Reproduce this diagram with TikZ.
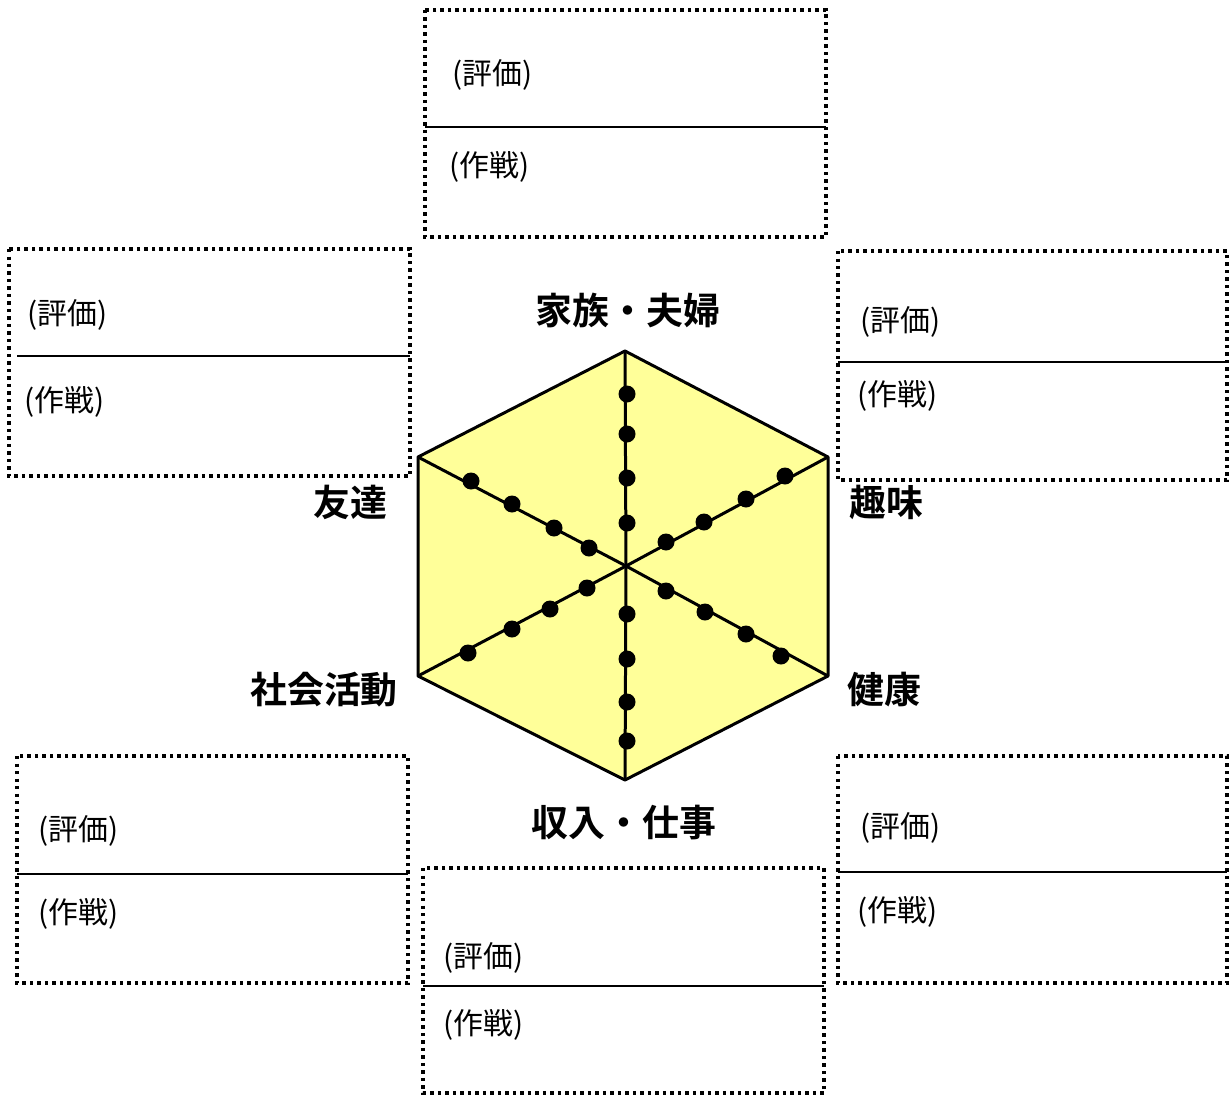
\documentclass[tikz,border=0pt]{standalone}
\usepackage{fontspec}
\setmainfont{Noto Sans CJK JP}[BoldFont={Noto Sans CJK JP Bold}]
\begin{document}
\begin{tikzpicture}[x=0.02cm,y=-0.02cm,
  memo/.style={draw, line width=0.068cm, dash pattern=on 0.068cm off 0.082cm},
  divider/.style={line width=0.04cm},
  hexline/.style={line width=0.06cm, line join=round},
  dotmark/.style={circle, fill=black, inner sep=0pt, minimum size=0.34cm},
  memotext/.style={anchor=west, font=\fontsize{17pt}{20pt}\selectfont},
  axislabel/.style={font=\fontsize{21pt}{24pt}\selectfont\bfseries}]
\useasboundingbox (0,0) rectangle (1229,1095);

% hexagon
\coordinate (C) at (626,566);
\coordinate (T) at (625,351);
\coordinate (UR) at (828,457);
\coordinate (LR) at (828,676);
\coordinate (B) at (625,780);
\coordinate (LL) at (418,676);
\coordinate (UL) at (418,457);
\fill[fill={rgb,255:red,255;green,255;blue,153}] (T) -- (UR) -- (LR) -- (B) -- (LL) -- (UL) -- cycle;
\foreach \v in {T,UR,LR,B,LL,UL}{
  \draw[hexline] (C) -- (\v);
}
\draw[hexline] (T) -- (UR) -- (LR) -- (B) -- (LL) -- (UL) -- cycle;

% scale dots
\foreach \p/\q [count=\i] in {627/394,627/434,627/478,627/523,
  627/614,627/659,627/702,627/741,
  666/542,704/522,746/499,785/476,
  666/591,705/612,746/634,781/656,
  471/481,512/504,554/528,589/548,
  468/653,512/629,550/609,587/588}{
  \node[dotmark] (d\i) at (\p,\q) {};
}

% axis labels
\node[axislabel] (lfam) at (628,310) {家族・夫婦};
\node[axislabel] (lfri) at (350,502) {友達};
\node[axislabel] (lhob) at (886,502) {趣味};
\node[axislabel] (lsoc) at (324,690) {社会活動};
\node[axislabel] (lhea) at (884,690) {健康};
\node[axislabel] (linc) at (624,823) {収入・仕事};

% memo boxes
% top
\draw[memo] (425,10) rectangle (826,237);
\draw[divider] (425,127) -- (826,127);
\node[memotext] (t1) at (446,75) {(評価)};
\node[memotext] (t2) at (443,167) {(作戦)};
% upper left
\draw[memo] (9,249) rectangle (410,476);
\draw[divider] (17,356) -- (410,356);
\node[memotext] (ul1) at (21,315) {(評価)};
\node[memotext] (ul2) at (18,402) {(作戦)};
% upper right
\draw[memo] (838,251) rectangle (1227,480);
\draw[divider] (838,362) -- (1227,362);
\node[memotext] (ur1) at (854,322) {(評価)};
\node[memotext] (ur2) at (851,396) {(作戦)};
% lower left
\draw[memo] (17,756) rectangle (408,983);
\draw[divider] (17,874) -- (408,874);
\node[memotext] (ll1) at (32,831) {(評価)};
\node[memotext] (ll2) at (32,914) {(作戦)};
% lower right
\draw[memo] (838,756) rectangle (1227,983);
\draw[divider] (838,872) -- (1227,872);
\node[memotext] (lr1) at (854,828) {(評価)};
\node[memotext] (lr2) at (851,912) {(作戦)};
% bottom
\draw[memo] (423,868) rectangle (824,1093);
\draw[divider] (423,986) -- (824,986);
\node[memotext] (b1) at (437,958) {(評価)};
\node[memotext] (b2) at (437,1025) {(作戦)};
\end{tikzpicture}
\end{document}
